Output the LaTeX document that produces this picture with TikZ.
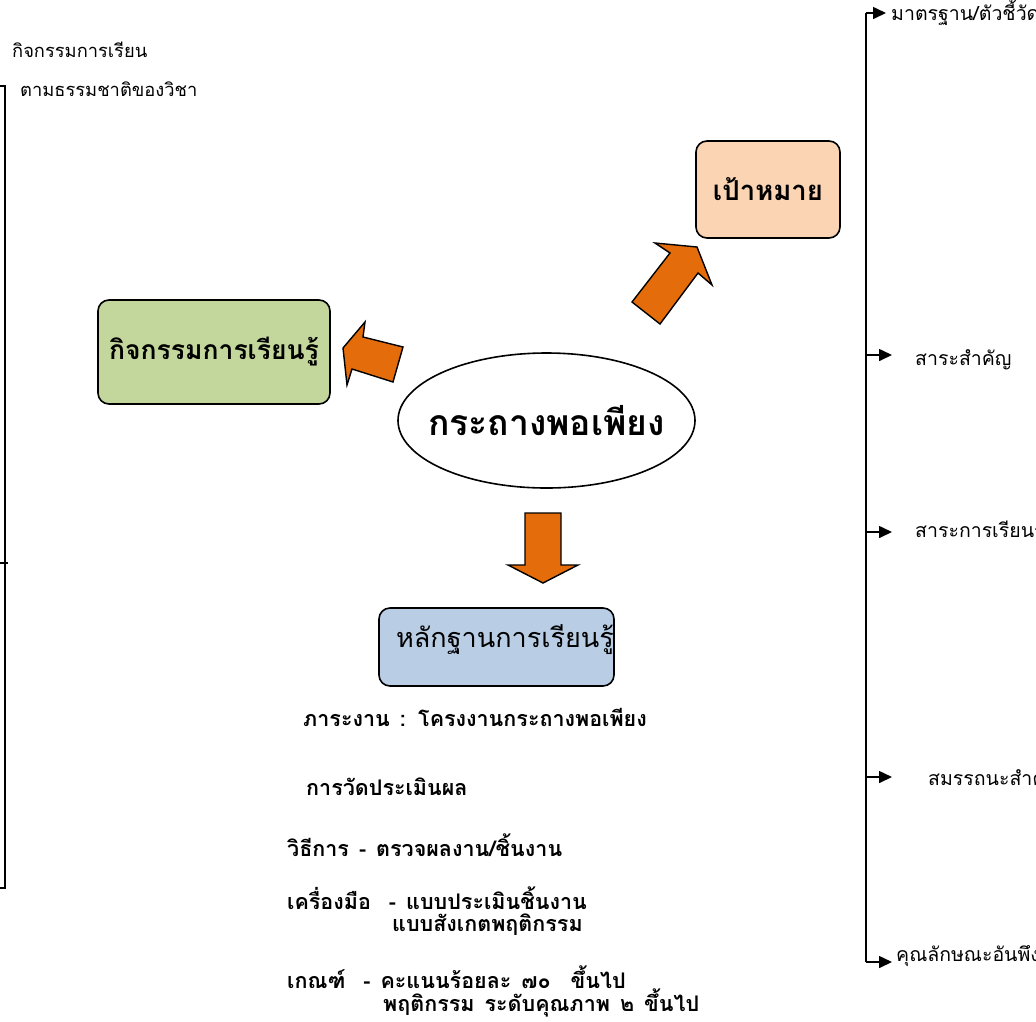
\documentclass[tikz,border=0pt]{standalone}
\usepackage{fontspec}
\usetikzlibrary{arrows.meta,shapes.geometric}
\newfontfamily\thai[Script=Thai]{Loma}
\newcommand\mynotefont{\thai\bfseries\fontsize{21.5}{24}\selectfont\spaceskip=10pt\relax}
\definecolor{peach}{HTML}{FBD4B4}
\definecolor{leaf}{HTML}{C3D69B}
\definecolor{sky}{HTML}{B9CDE5}
\definecolor{blockorange}{HTML}{E46C0A}
\tikzset{
  box/.style={draw=black,line width=1.6pt,rounded corners=11pt,inner sep=0pt,font=\thai},
  blockarrow/.style={draw=black,line width=1.4pt,fill=blockorange,line join=miter},
  lbl/.style={anchor=west,inner sep=0pt,font=\thai\fontsize{18.3}{21}\selectfont},
  rlbl/.style={anchor=west,inner sep=0pt,font=\thai\fontsize{19.5}{23}\selectfont},
  note/.style={anchor=west,inner sep=0pt,font=\mynotefont},
  spine/.style={line width=1.6pt},
  branch/.style={line width=1.6pt,-{Triangle[length=13pt,width=12pt]}}
}
\begin{document}
\begin{tikzpicture}[x=1pt,y=-1pt]
\useasboundingbox (0,0) rectangle (1036,1021);
\clip (0,0) rectangle (1036,1021);

% top-left texts
\node[lbl] (tl1) at (12,50) {กิจกรรมการเรียน};
\node[lbl] (tl2) at (20,89) {ตามธรรมชาติของวิชา};

% left bracket
\coordinate (lb1) at (0,86);
\coordinate (lb2) at (5,86);
\coordinate (lb3) at (5,888);
\coordinate (lb4) at (0,888);
\coordinate (lt1) at (0,563);
\coordinate (lt2) at (8,563);
\draw[spine] (lb1) -- (lb2) -- (lb3) -- (lb4);
\draw[spine] (lt1) -- (lt2);

% central ellipse
\node[draw=black,line width=1.6pt,ellipse,minimum width=297pt,minimum height=135pt,inner sep=0pt] (core) at (546.5,420.5) {};
\node[inner sep=0pt,font=\thai\bfseries\fontsize{35.5}{40}\selectfont] (coretext) at (core.center) {กระถางพอเพียง};

% boxes
\node[box,fill=peach,minimum width=144pt,minimum height=97pt,font=\thai\bfseries\fontsize{27.5}{32}\selectfont] (goal) at (768,189.5) {เป้าหมาย};
\node[box,fill=leaf,minimum width=232pt,minimum height=104pt,font=\thai\bfseries\fontsize{26.5}{31}\selectfont] (act) at (214,352) {กิจกรรมการเรียนรู้};
\node[box,fill=sky,minimum width=235pt,minimum height=78pt] (evid) at (496.5,647) {};
\node[inner sep=0pt,font=\thai\fontsize{27}{32}\selectfont] (evidtext) at (505,640) {หลักฐานการเรียนรู้};

% block arrows
\draw[blockarrow] (632,302) -- (670,253) -- (655,243) -- (697,247) -- (712,285) -- (698,273) -- (660,324) -- cycle;
\draw[blockarrow] (343,348) -- (365,322) -- (363,337) -- (403,347) -- (393,382) -- (352,369) -- (347,385) -- cycle;
\draw[blockarrow] (525,513) -- (561,513) -- (561,565) -- (578,565) -- (543,583) -- (508,565) -- (525,565) -- cycle;

% right bracket
\coordinate (s1) at (866,13);
\coordinate (s2) at (866,355);
\coordinate (s3) at (866,532);
\coordinate (s4) at (866,777);
\coordinate (s5) at (866,962);
\node[rlbl] (r1) at (891,13) {มาตรฐาน/ตัวชี้วัด};
\node[rlbl] (r2) at (915,360) {สาระสำคัญ};
\node[rlbl] (r3) at (915,532) {สาระการเรียนรู้};
\node[rlbl] (r4) at (928,780) {สมรรถนะสำคัญ};
\node[rlbl] (r5) at (896,955) {คุณลักษณะอันพึงประสงค์};
\draw[spine] (s1) -- (s5);
\draw[branch] (s1) -- (886,13);
\draw[branch] (s2) -- (892,355);
\draw[branch] (s3) -- (892,532);
\draw[branch] (s4) -- (892,777);
\draw[branch] (s5) -- (892,962);

% notes under evidence box
\node[note] (n1) at (303,717) {ภาระงาน : โครงงานกระถางพอเพียง};
\node[note] (n2) at (306,787) {การวัดประเมินผล};
\node[note] (n3) at (287,845) {วิธีการ - ตรวจผลงาน/ชิ้นงาน};
\node[note] (n4) at (287,898) {เครื่องมือ\hspace{18pt}- แบบประเมินชิ้นงาน};
\node[note] (n5) at (392,925) {แบบสังเกตพฤติกรรม};
\node[note] (n6) at (287,977) {เกณฑ์\hspace{18pt}- คะแนนร้อยละ ๗๐\hspace{20pt}ขึ้นไป};
\node[note] (n7) at (383,1003) {พฤติกรรม ระดับคุณภาพ ๒ ขึ้นไป};
\end{tikzpicture}
\end{document}
